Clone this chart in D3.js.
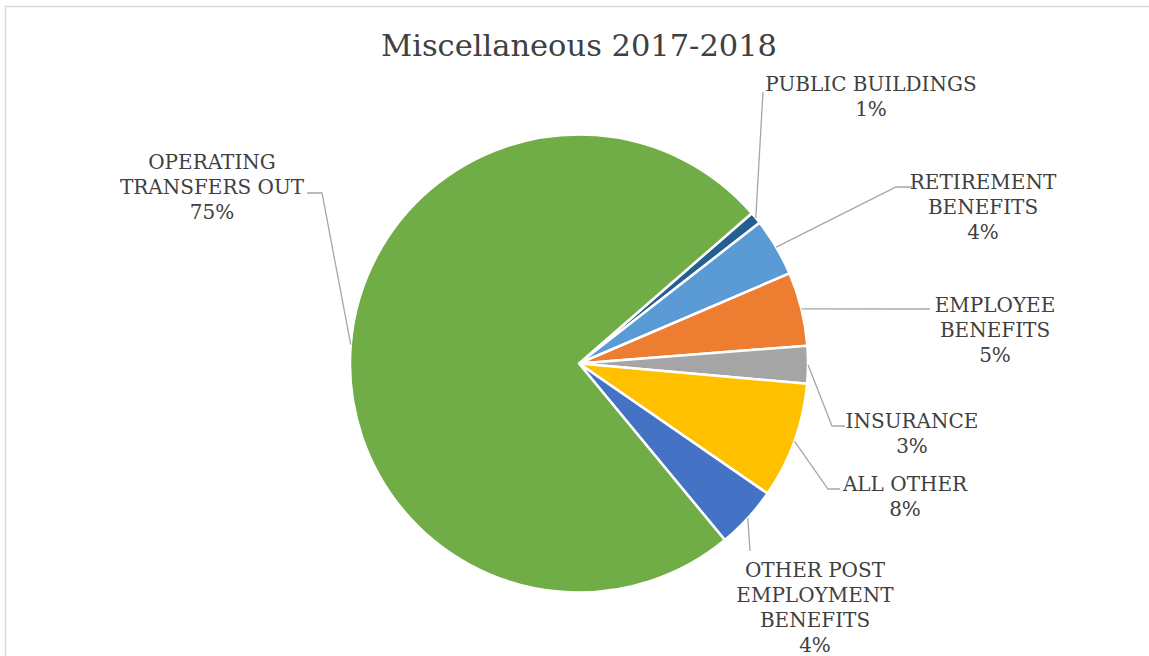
<!DOCTYPE html>
<html>
<head>
<meta charset="utf-8">
<script src="https://cdn.jsdelivr.net/npm/d3@7"></script>
<style>
  body { margin: 0; background: #fff; }
  svg { display: block; }
  .label { font-family: "DejaVu Serif", serif; font-size: 20px; fill: #404040; }
  .title { font-family: "DejaVu Serif", serif; font-size: 30.5px; fill: #404040; }
</style>
</head>
<body>
<script>
// slices in clockwise order, starting at the thin "public buildings" slice
const categories = ["PUBLIC BUILDINGS", "RETIREMENT BENEFITS", "EMPLOYEE BENEFITS",
  "INSURANCE", "ALL OTHER", "OTHER POST EMPLOYMENT BENEFITS", "OPERATING TRANSFERS OUT"];
const shares = [0.85, 4.1, 5.2, 2.65, 8.2, 4.4, 74.6];
const colors = ["#255e91", "#5b9bd5", "#ed7d31", "#a5a5a5", "#ffc000", "#4472c4", "#70ad47"];
// label lines as shown in the chart
const labelLines = [
  ["PUBLIC BUILDINGS"],
  ["RETIREMENT", "BENEFITS"],
  ["EMPLOYEE", "BENEFITS"],
  ["INSURANCE"],
  ["ALL OTHER"],
  ["OTHER POST", "EMPLOYMENT", "BENEFITS"],
  ["OPERATING", "TRANSFERS OUT"]
];

const width = 1149, height = 656;
const cx = 579, cy = 363.5, radius = 229;
const startDeg = 49;

// where each label sits (text centre x, first baseline y) and leader-line bends
const layout = [
  { tx: 871, ty: 91, bend: [[763, 92]] },
  { tx: 983, ty: 189, bend: [[896, 187], [912, 187]] },
  { tx: 995, ty: 312, bend: [[930, 309]] },
  { tx: 912, ty: 428, bend: [[832, 426], [845, 426]] },
  { tx: 905, ty: 491, bend: [[828, 489], [840, 489]] },
  { tx: 815, ty: 577, bend: [[750, 551]] },
  { tx: 212, ty: 169, bend: [[322, 193], [307, 193]] }
];

const svg = d3.select("body").append("svg")
  .attr("width", width).attr("height", height);

// chart frame (only top and left edges show in the picture)
svg.append("path")
  .attr("d", "M5.5," + height + "V6.5H" + width)
  .attr("fill", "none").attr("stroke", "#d9d9d9").attr("stroke-width", 1.5);

svg.append("text").attr("class", "title")
  .attr("x", cx).attr("y", 56).attr("text-anchor", "middle")
  .text("Miscellaneous 2017-2018");

const pie = d3.pie().sort(null).value(d => d)
  .startAngle(startDeg * Math.PI / 180)
  .endAngle(startDeg * Math.PI / 180 + 2 * Math.PI);
const arcs = pie(shares);
const arc = d3.arc().innerRadius(0).outerRadius(radius);

const g = svg.append("g").attr("transform", "translate(" + cx + "," + cy + ")");
g.selectAll("path.slice").data(arcs).join("path")
  .attr("class", "slice")
  .attr("d", arc)
  .attr("fill", (d, i) => colors[i])
  .attr("stroke", "#fff").attr("stroke-width", 2.5)
  .attr("stroke-linejoin", "round");

// leader lines
const line = d3.line();
arcs.forEach((a, i) => {
  const mid = (a.startAngle + a.endAngle) / 2;
  const p0 = [cx + radius * Math.sin(mid), cy - radius * Math.cos(mid)];
  svg.append("path")
    .attr("d", line([p0].concat(layout[i].bend)))
    .attr("fill", "none").attr("stroke", "#a6a6a6").attr("stroke-width", 1.3);
});

// labels with rounded percentage
arcs.forEach((a, i) => {
  const lines = labelLines[i].concat([Math.round(shares[i]) + "%"]);
  const t = svg.append("text").attr("class", "label")
    .attr("text-anchor", "middle");
  lines.forEach((s, j) => {
    t.append("tspan").attr("x", layout[i].tx).attr("y", layout[i].ty + j * 25).text(s);
  });
});
</script>
</body>
</html>
